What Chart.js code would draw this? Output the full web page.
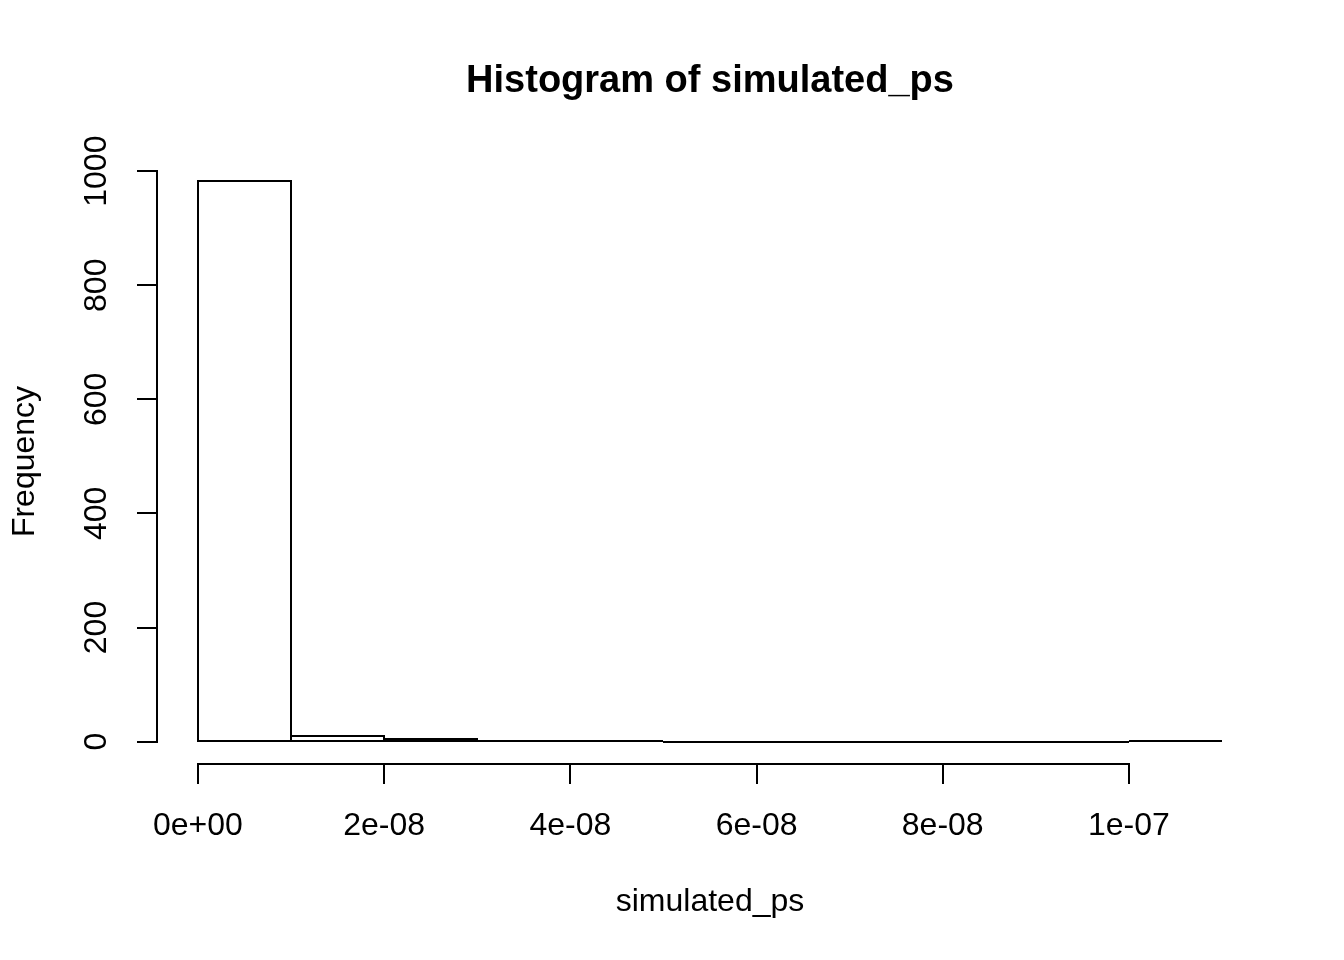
<!DOCTYPE html>
<html>
<head>
<meta charset="utf-8">
<title>Histogram of simulated_ps</title>
<script src="https://cdn.jsdelivr.net/npm/chart.js@4/dist/chart.umd.min.js"></script>
<style>
  html, body { margin: 0; padding: 0; background: #fff; }
  canvas { display: block; }
</style>
</head>
<body>
<canvas id="hist" width="1344" height="960"></canvas>
<script>
// DATA
const binEdges = [0, 1e-8, 2e-8, 3e-8, 4e-8, 5e-8, 6e-8, 7e-8, 8e-8, 9e-8, 1e-7, 1.1e-7];
const counts = [982, 10, 5, 1, 1, 0, 0, 0, 0, 0, 1];
const xTicks = [0, 2e-8, 4e-8, 6e-8, 8e-8, 1e-7];
const yTicks = [0, 200, 400, 600, 800, 1000];

const FONT = "'Liberation Sans', Arial, Helvetica, sans-serif";

// R-style padding: 4% beyond the data range on each side
const xLo = binEdges[0], xHi = binEdges[binEdges.length - 1];
const yHi = Math.max(...counts);
const xPad = (xHi - xLo) * 0.04;
const yPad = yHi * 0.04;

const points = counts.map((c, i) => ({ x: (binEdges[i] + binEdges[i + 1]) / 2, y: c }));

// R style exponent labels: 2e-08, 0e+00
const rExp = (v) => {
  let s = Number(v).toExponential();
  return s.replace(/e([+-])(\d)$/, 'e$10$2');
};

// HELPERS / PLUGINS
const histOutline = {
  id: 'histOutline',
  afterDatasetsDraw(chart) {
    const ctx = chart.ctx;
    const meta = chart.getDatasetMeta(0);
    ctx.save();
    ctx.strokeStyle = '#000';
    ctx.lineWidth = 2;
    meta.data.forEach((bar) => {
      const { x, y, base, width } = bar.getProps(['x', 'y', 'base', 'width'], true);
      const left = Math.round(x - width / 2);
      const right = Math.round(x + width / 2);
      const top = Math.round(y);
      const bottom = Math.round(base);
      ctx.strokeRect(left, top, right - left, bottom - top);
    });
    ctx.restore();
  }
};

const rAxes = {
  id: 'rAxes',
  afterDraw(chart) {
    const { ctx, chartArea, scales } = chart;
    ctx.save();
    ctx.strokeStyle = '#000';
    ctx.lineWidth = 2;
    ctx.beginPath();
    const y0 = Math.round(chartArea.bottom);
    ctx.moveTo(Math.round(scales.x.getPixelForValue(xTicks[0])) - 1, y0);
    ctx.lineTo(Math.round(scales.x.getPixelForValue(xTicks[xTicks.length - 1])) + 1, y0);
    const x0 = Math.round(chartArea.left);
    ctx.moveTo(x0, Math.round(scales.y.getPixelForValue(yTicks[0])) + 1);
    ctx.lineTo(x0, Math.round(scales.y.getPixelForValue(yTicks[yTicks.length - 1])) - 1);
    ctx.stroke();
    ctx.restore();
  }
};

Chart.defaults.font.family = FONT;
Chart.defaults.color = '#000';

const ctx = document.getElementById('hist');
const histChart = new Chart(ctx, {
  type: 'bar',
  data: {
    datasets: [{
      label: 'simulated_ps',
      data: points,
      backgroundColor: '#fff',
      borderWidth: 0,
      barPercentage: 1,
      categoryPercentage: 1
    }]
  },
  options: {
    responsive: false,
    devicePixelRatio: 1,
    animation: false,
    layout: { padding: { left: 0, right: 81, top: 0, bottom: 0 } },
    plugins: {
      legend: { display: false },
      tooltip: { enabled: false },
      title: {
        display: true,
        text: 'Histogram of simulated_ps',
        fullSize: false,
        color: '#000',
        font: { family: FONT, size: 38, weight: 'bold', lineHeight: 1.2 },
        padding: { top: 59, bottom: 54.4 }
      }
    },
    scales: {
      x: {
        type: 'linear',
        offset: false,
        min: xLo - xPad,
        max: xHi + xPad,
        bounds: 'data',
        afterBuildTicks: (scale) => { scale.ticks = xTicks.map(v => ({ value: v })); },
        afterFit: (scale) => { scale.height = 196; },
        grid: { offset: false, drawOnChartArea: false, drawTicks: true, tickLength: 20, color: '#000', lineWidth: 2 },
        border: { display: false },
        ticks: {
          autoSkip: false, maxRotation: 0, minRotation: 0, padding: 23,
          font: { size: 32 },
          callback: (v) => rExp(v)
        },
        title: { display: true, text: 'simulated_ps', font: { size: 32, lineHeight: 1.2 }, padding: { top: 0, bottom: 39 } }
      },
      y: {
        type: 'linear',
        min: -yPad,
        max: yHi + yPad,
        bounds: 'data',
        afterBuildTicks: (scale) => { scale.ticks = yTicks.map(v => ({ value: v })); },
        afterFit: (scale) => { scale.width = 157; },
        grid: { drawOnChartArea: false, drawTicks: true, tickLength: 20, color: '#000', lineWidth: 2 },
        border: { display: false },
        ticks: {
          autoSkip: false, minRotation: 90, maxRotation: 90, padding: 4, crossAlign: 'center',
          font: { size: 32 },
          callback: (v) => String(v)
        },
        title: { display: true, text: 'Frequency', font: { size: 32, lineHeight: 1.2 }, padding: { top: 6, bottom: 0 } }
      }
    }
  },
  plugins: [histOutline, rAxes]
});
</script>
</body>
</html>
